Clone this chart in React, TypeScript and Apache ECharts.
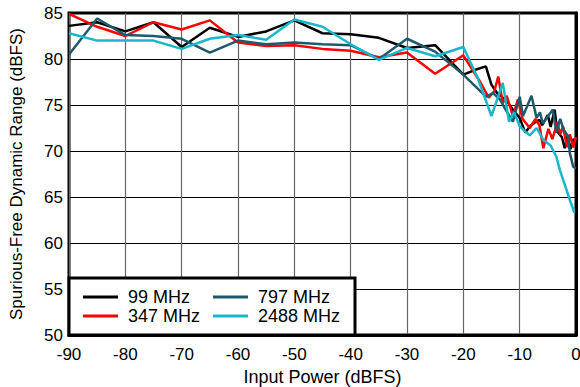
import React, { useEffect, useRef } from "react";
import * as echarts from "echarts";

const seriesNames = ["99 MHz", "347 MHz", "797 MHz", "2488 MHz"];
const seriesColors = ["#000000", "#ff0000", "#1f5a6b", "#17b8cb"];

const xTicks = [-90, -80, -70, -60, -50, -40, -30, -20, -10, 0];
const yTicks = [50, 55, 60, 65, 70, 75, 80, 85];

const data99: [number, number][] = [
  [-90, 83.6], [-85, 84.0], [-80, 83.0], [-75, 84.0], [-70, 81.3], [-65, 83.4], [-60, 82.4],
  [-55, 83.0], [-50, 84.2], [-45, 82.8], [-40, 82.7], [-35, 82.3], [-30, 81.2], [-25, 81.5],
  [-20, 78.3], [-18, 78.8], [-16, 79.2], [-15, 77.2], [-14, 76.3], [-13, 75.8], [-12, 75.2],
  [-11, 74.3], [-10, 73.6], [-9, 72.0], [-8, 72.8], [-7, 73.2], [-6.5, 73.4], [-6, 72.8],
  [-5, 73.9], [-4.5, 72.6], [-3.8, 74.5], [-3.3, 72.1], [-2.5, 71.5], [-2, 70.3], [-1.5, 71.6],
  [-1, 70.2], [-0.5, 71.3], [0, 71.0],
];

const data347: [number, number][] = [
  [-90, 84.9], [-85, 83.5], [-80, 82.5], [-75, 84.0], [-70, 83.2], [-65, 84.2], [-60, 81.8],
  [-55, 81.4], [-50, 81.5], [-45, 81.1], [-40, 80.9], [-35, 80.2], [-30, 80.7], [-25, 78.4],
  [-20, 80.4], [-17, 77.5], [-15.5, 75.8], [-14.5, 76.5], [-13.8, 78.1], [-13, 75.2],
  [-12.3, 76.0], [-11.2, 73.8], [-10.3, 75.6], [-9.5, 73.5], [-8.2, 72.5], [-7.2, 73.5],
  [-6.5, 72.8], [-5.8, 70.3], [-4.9, 72.4], [-4.2, 71.3], [-3.3, 73.1], [-2.8, 71.8],
  [-2.3, 72.7], [-1.6, 70.4], [-1.1, 71.8], [-0.5, 70.4], [0, 71.5],
];

const data797: [number, number][] = [
  [-90, 80.5], [-85, 84.4], [-80, 82.6], [-75, 82.5], [-70, 82.2], [-65, 80.7], [-60, 82.0],
  [-55, 81.6], [-50, 81.8], [-45, 81.6], [-40, 81.5], [-35, 80.0], [-30, 82.2], [-25, 80.8],
  [-20, 78.3], [-16, 75.9], [-14.7, 76.3], [-13.5, 75.6], [-12.5, 74.5], [-11.2, 73.2],
  [-10, 75.9], [-9.4, 73.8], [-7.9, 76.0], [-7, 73.6], [-6.4, 74.2], [-5.9, 73.0],
  [-4.1, 74.5], [-3.5, 72.0], [-2.8, 73.5], [-2.2, 72.3], [-1.4, 71.6], [-1.1, 69.8],
  [-0.5, 68.3], [0, 68.1],
];

const data2488: [number, number][] = [
  [-90, 82.8], [-85, 82.0], [-80, 82.0], [-75, 82.0], [-70, 81.1], [-65, 82.2], [-60, 82.6],
  [-55, 82.1], [-50, 84.3], [-45, 83.5], [-40, 81.6], [-35, 79.9], [-30, 81.2], [-25, 80.3],
  [-20, 81.3], [-17.5, 78.0], [-15, 73.8], [-13, 77.4], [-11.9, 73.2], [-11, 74.2],
  [-10, 72.7], [-9, 72.1], [-8.2, 71.7], [-7, 72.5], [-5.8, 71.2], [-4.5, 70.6],
  [-3.5, 69.4], [-2.9, 68.0], [-1.7, 65.8], [-1.1, 64.7], [-0.3, 63.3],
];

const allData = [data99, data347, data797, data2488];

const FONT = "Liberation Sans, Arial, sans-serif";

export default function App() {
  const ref = useRef<HTMLDivElement>(null);
  useEffect(() => {
    if (!ref.current) return;
    const chart = echarts.init(ref.current, null, { renderer: "svg" });
    const legendCommon = {
      orient: "vertical",
      itemWidth: 35,
      itemHeight: 3,
      itemGap: 1,
      icon: "rect",
      padding: 0,
      z: 10,
      textStyle: { fontFamily: FONT, fontSize: 18, color: "#000", padding: [0, 0, 0, 5] },
    };
    chart.setOption({
      animation: false,
      backgroundColor: "#fff",
      grid: {
        left: 69,
        right: 4,
        top: 13,
        bottom: 52,
        containLabel: false,
        outerBoundsMode: "none",
        show: true,
        borderColor: "#000",
        borderWidth: 3,
        backgroundColor: "transparent",
      },
      xAxis: {
        type: "value",
        min: xTicks[0],
        max: xTicks[xTicks.length - 1],
        interval: 10,
        name: "Input Power (dBFS)",
        nameLocation: "middle",
        nameGap: 27,
        nameTextStyle: { fontFamily: FONT, fontSize: 18, color: "#000", verticalAlign: "top" },
        axisLine: { show: true, lineStyle: { color: "#000", width: 3 } },
        axisTick: { show: false },
        axisLabel: { fontFamily: FONT, fontSize: 17, color: "#000", margin: 11 },
        splitLine: { show: true, lineStyle: { color: "#666", width: 1.2 } },
      },
      yAxis: {
        type: "value",
        min: yTicks[0],
        max: yTicks[yTicks.length - 1],
        interval: 5,
        name: "Spurious-Free Dynamic Range (dBFS)",
        nameLocation: "middle",
        nameGap: 44,
        nameTextStyle: { fontFamily: FONT, fontSize: 17, color: "#000" },
        axisLine: { show: true, lineStyle: { color: "#000", width: 3 } },
        axisTick: { show: false },
        axisLabel: { fontFamily: FONT, fontSize: 17, color: "#000", margin: 6 },
        splitLine: { show: true, lineStyle: { color: "#000", width: 1 } },
      },
      legend: [
        { ...legendCommon, left: 83, top: 288, data: [seriesNames[0], seriesNames[1]] },
        { ...legendCommon, left: 213, top: 288, data: [seriesNames[2], seriesNames[3]] },
      ],
      graphic: [
        {
          type: "rect",
          z: 5,
          shape: { x: 69, y: 278, width: 286, height: 57 },
          style: { fill: "#fff", stroke: "#000", lineWidth: 3 },
        },
      ],
      series: seriesNames.map((name, i) => ({
        name,
        type: "line",
        data: allData[i],
        showSymbol: false,
        symbol: "none",
        color: seriesColors[i],
        lineStyle: { color: seriesColors[i], width: 2.5 },
        itemStyle: { color: seriesColors[i] },
        z: 2,
      })),
    });
    return () => chart.dispose();
  }, []);
  return <div ref={ref} style={{ width: 580, height: 387, position: "absolute", left: 0, top: 0 }} />;
}
